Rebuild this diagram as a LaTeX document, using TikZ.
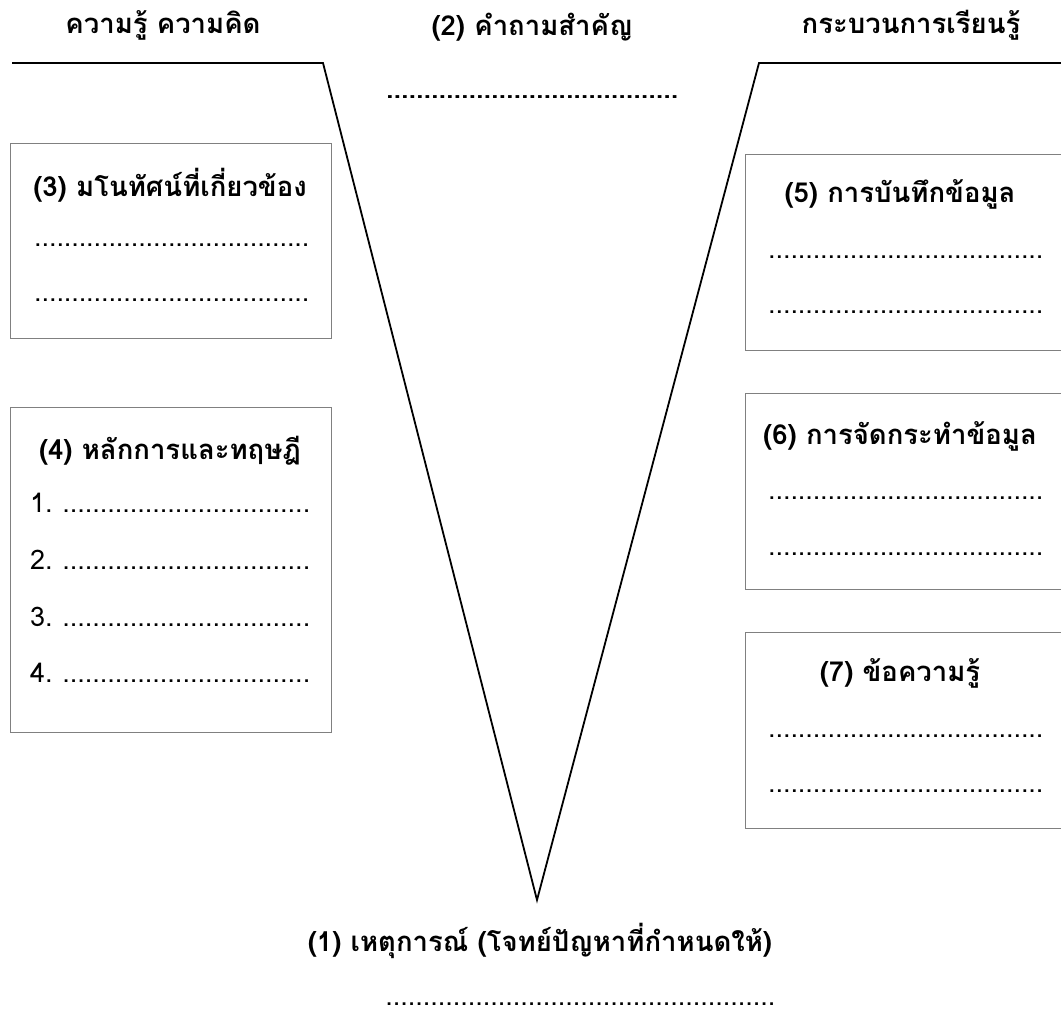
\documentclass[tikz,border=0pt]{standalone}
\usepackage{fontspec}
\newfontfamily\thaifont[Script=Thai]{Loma}
\tikzset{
  panel/.style={draw=black!50, line width=1.4pt, anchor=north west, inner sep=0pt},
  vline/.style={draw=black, line width=1.8pt, line join=miter},
  heading/.style={font=\thaifont\bfseries\fontsize{27.5}{32}\selectfont, inner sep=0pt},
  dotline/.style={font=\thaifont\fontsize{27}{32}\selectfont, inner sep=0pt, anchor=base west},
  numlabel/.style={font=\thaifont\fontsize{27}{32}\selectfont, inner sep=0pt, anchor=base west}
}
% a row of evenly spaced periods, filling the given width
\newcommand{\dotrow}[1]{\hbox to #1{\xleaders\hbox to 7.4pt{\hss.\hss}\hfill}}
\begin{document}
\begin{tikzpicture}[x=1pt,y=-1pt]
\useasboundingbox (0,0) rectangle (1061,1016);
\clip (0,0) rectangle (1061,1016);

% the Vee
\coordinate (vl) at (12,63);
\coordinate (vlc) at (323,63);
\coordinate (apex) at (537,900);
\coordinate (vrc) at (759,63);
\coordinate (vr) at (1070,63);
\draw[vline] (vl) -- (vlc) -- (apex) -- (vrc) -- (vr);

% headings above the Vee
\node[heading] (hleft) at (163,25) {ความรู้ ความคิด};
\node[heading] (hmid) at (532,27) {(2) คำถามสำคัญ};
\node[heading] (hright) at (911,25) {กระบวนการเรียนรู้};
\node[dotline, font=\thaifont\bfseries\fontsize{27}{32}\selectfont] (qdots) at (386,99) {\dotrow{292pt}};

% left side panels
\node[panel, minimum width=321pt, minimum height=195pt] (b3) at (10,143) {};
\node[heading] (t3) at (170,185) {(3) มโนทัศน์ที่เกี่ยวข้อง};
\node[dotline] (d3a) at (34,247) {\dotrow{275pt}};
\node[dotline] (d3b) at (34,302) {\dotrow{275pt}};

\node[panel, minimum width=321pt, minimum height=325pt] (b4) at (10,407) {};
\node[heading] (t4) at (170,451) {(4) หลักการและทฤษฎี};
\foreach \i/\yy in {1/512,2/569,3/626,4/682}{
  \node[numlabel] (n\i) at (30,\yy) {\i.};
  \node[dotline] (d4\i) at (62,\yy) {\dotrow{248pt}};
}

% right side panels
\node[panel, minimum width=330pt, minimum height=196pt] (b5) at (745,154) {};
\node[heading] (t5) at (900,194) {(5) การบันทึกข้อมูล};
\node[dotline] (d5a) at (768,259) {\dotrow{275pt}};
\node[dotline] (d5b) at (768,314) {\dotrow{275pt}};

\node[panel, minimum width=330pt, minimum height=196pt] (b6) at (745,393) {};
\node[heading] (t6) at (900,436) {(6) การจัดกระทำข้อมูล};
\node[dotline] (d6a) at (768,499) {\dotrow{275pt}};
\node[dotline] (d6b) at (768,555) {\dotrow{275pt}};

\node[panel, minimum width=330pt, minimum height=196pt] (b7) at (745,632) {};
\node[heading] (t7) at (900,673) {(7) ข้อความรู้};
\node[dotline] (d7a) at (768,737) {\dotrow{275pt}};
\node[dotline] (d7b) at (768,792) {\dotrow{275pt}};

% event at the point of the Vee
\node[heading] (t1) at (540,941) {(1) เหตุการณ์ (โจทย์ปัญหาที่กำหนดให้)};
\node[dotline] (d1) at (385,1005) {\dotrow{390pt}};
\end{tikzpicture}
\end{document}
